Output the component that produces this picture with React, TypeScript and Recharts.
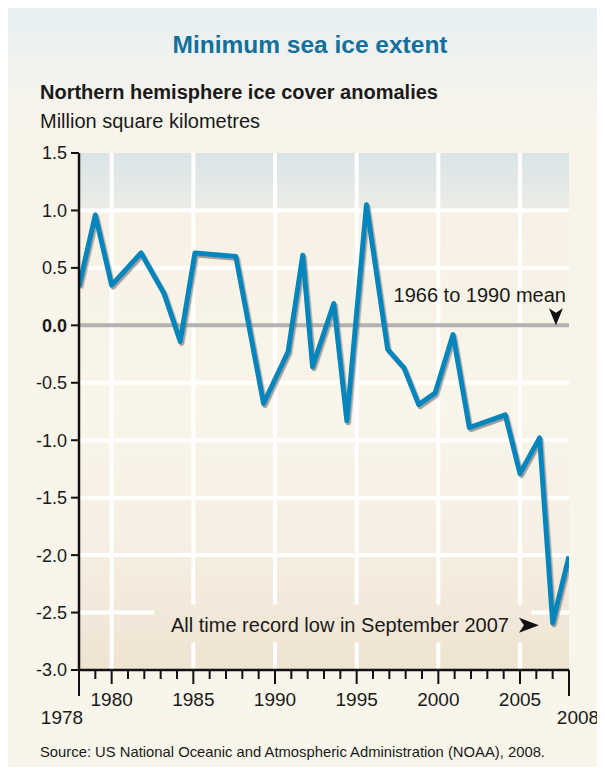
import {
  LineChart,
  Line,
  XAxis,
  YAxis,
  CartesianGrid,
  ReferenceLine,
  ReferenceDot,
} from "recharts";

// vertices as drawn in the original graphic (x positions are not exactly on whole years)
const years = [
  1978.0, 1979.0, 1980.0, 1981.8, 1983.2, 1984.2, 1985.1, 1987.6, 1989.3,
  1990.8, 1991.7, 1992.3, 1993.6, 1994.4, 1995.6, 1996.9, 1997.9, 1998.8,
  1999.8, 2000.9, 2001.9, 2004.1, 2005.0, 2006.2, 2007.0, 2008.0,
];
const anomalies = [
  0.34, 0.96, 0.35, 0.63, 0.28, -0.14, 0.63, 0.6, -0.68, -0.23, 0.61, -0.36,
  0.19, -0.83, 1.05, -0.21, -0.37, -0.69, -0.59, -0.08, -0.89, -0.78, -1.29,
  -0.98, -2.59, -2.01,
];

const yTicks = [-3, -2.5, -2, -1.5, -1, -0.5, 0, 0.5, 1, 1.5];
const yearTicks = [
  1978, 1979, 1980, 1981, 1982, 1983, 1984, 1985, 1986, 1987, 1988, 1989,
  1990, 1991, 1992, 1993, 1994, 1995, 1996, 1997, 1998, 1999, 2000, 2001,
  2002, 2003, 2004, 2005, 2006, 2007, 2008,
];
const gridYears = [1980, 1985, 1990, 1995, 2000, 2005];
const gridValues = [1, 0.5, -0.5, -1, -1.5, -2, -2.5];

const meanLabel = "1966 to 1990 mean";
const recordLabel = "All time record low in September 2007";

// area kept clear of grid lines behind the record-low note
const noteBox = { x1: 1982.6, x2: 2005.7, y1: -2.76, y2: -2.43 };

const data = years.map((year, i) => ({ year, value: anomalies[i] }));

const FONT = "'Liberation Sans', Arial, Helvetica, sans-serif";
const INK = "#1a1a1a";

function YTick(props: any) {
  const { x, y, payload } = props;
  return (
    <text
      x={x}
      y={y}
      dy="0.36em"
      textAnchor="end"
      fontSize={18}
      fontFamily={FONT}
      fontWeight={payload.value === 0 ? 700 : 400}
      fill={INK}
    >
      {payload.value.toFixed(1)}
    </text>
  );
}

function XTick(props: any) {
  const { x, y, payload } = props;
  const v = payload.value;
  const isEnd = v === 1978 || v === 2008;
  const isMajor = v % 5 === 0;
  const len = isEnd ? 26 : isMajor ? 14 : 9;
  return (
    <g>
      <line x1={x} x2={x} y1={y} y2={y + len} stroke="#111" strokeWidth={2} />
      {isMajor && (
        <text x={x} y={y + 35.5} textAnchor="middle" fontSize={19} fontFamily={FONT} fill={INK}>
          {v}
        </text>
      )}
      {isEnd && (
        <text
          x={v === 1978 ? x - 17 : x + 9}
          y={y + 54}
          textAnchor="middle"
          fontSize={19}
          fontFamily={FONT}
          fill={INK}
        >
          {v}
        </text>
      )}
    </g>
  );
}

function MeanNote(props: any) {
  const { cx, cy } = props;
  return (
    <g>
      <text x={cx + 10} y={cy - 23} textAnchor="end" fontSize={20} fontFamily={FONT} fill={INK}>
        {meanLabel}
      </text>
      <polygon
        points={`${cx - 7},${cy - 17} ${cx},${cy - 12.5} ${cx + 7},${cy - 17} ${cx},${cy}`}
        fill="#111"
      />
    </g>
  );
}

function RecordNote(props: any) {
  const { cx, cy } = props;
  return (
    <g>
      <text x={cx - 30} y={cy + 6.6} textAnchor="end" fontSize={20} fontFamily={FONT} fill={INK}>
        {recordLabel}
      </text>
      <polygon
        points={`${cx - 20},${cy - 7.5} ${cx - 15},${cy} ${cx - 20},${cy + 7.5} ${cx},${cy}`}
        fill="#111"
      />
    </g>
  );
}

const text = (style: any) => ({
  position: "absolute" as const,
  lineHeight: 1,
  whiteSpace: "nowrap" as const,
  fontFamily: FONT,
  color: INK,
  ...style,
});

export default function App() {
  return (
    <div
      style={{
        position: "relative",
        width: 597,
        height: 759,
        background: "linear-gradient(to bottom, #e6eff3 0px, #f2f3ee 60px, #f8f4ea 130px, #f8f5ea 100%)",
      }}
    >
      <div style={text({ left: 0, width: 604, top: 24.6, textAlign: "center", fontSize: 24.5, fontWeight: 700, color: "#13709d" })}>
        Minimum sea ice extent
      </div>
      <div style={text({ left: 32, top: 74, fontSize: 20, fontWeight: 700 })}>
        Northern hemisphere ice cover anomalies
      </div>
      <div style={text({ left: 32, top: 103.4, fontSize: 20 })}>Million square kilometres</div>
      <div style={text({ left: 32, top: 736.5, fontSize: 14.8 })}>
        Source: US National Oceanic and Atmospheric Administration (NOAA), 2008.
      </div>

      <div style={{ position: "absolute", left: 0, top: 0 }}>
        <LineChart
          width={597}
          height={759}
          data={data}
          margin={{ top: 145, right: 36, bottom: 47, left: 11 }}
        >
          <defs>
            <linearGradient id="plotBg" x1="0" y1="0" x2="0" y2="1">
              <stop offset="0" stopColor="#dae4e7" />
              <stop offset="0.105" stopColor="#ebece6" />
              <stop offset="0.115" stopColor="#f7f1e5" />
              <stop offset="0.5" stopColor="#f9f5ea" />
              <stop offset="0.75" stopColor="#f6efe3" />
              <stop offset="1" stopColor="#efe3d2" />
            </linearGradient>
            <filter id="lineShadow" x="-5%" y="-5%" width="110%" height="110%">
              <feDropShadow dx="1.5" dy="2" stdDeviation="0.6" floodColor="#6f6f6f" floodOpacity="0.65" />
            </filter>
          </defs>
          <CartesianGrid horizontal={false} vertical={false} fill="url(#plotBg)" />

          {gridValues.map((v) =>
            v === -2.5 ? (
              [
                <ReferenceLine
                  key={`h${v}a`}
                  segment={[{ x: 1978, y: v }, { x: noteBox.x1, y: v }]}
                  stroke="#fff"
                  strokeWidth={4}
                />,
                <ReferenceLine
                  key={`h${v}b`}
                  segment={[{ x: noteBox.x2, y: v }, { x: 2008, y: v }]}
                  stroke="#fff"
                  strokeWidth={4}
                />,
              ]
            ) : (
              <ReferenceLine key={`h${v}`} y={v} stroke="#fff" strokeWidth={4} />
            )
          )}
          {gridYears.map((yr) =>
            yr > noteBox.x1 && yr < noteBox.x2 ? (
              [
                <ReferenceLine
                  key={`v${yr}a`}
                  segment={[{ x: yr, y: -3 }, { x: yr, y: noteBox.y1 }]}
                  stroke="#fff"
                  strokeWidth={4}
                />,
                <ReferenceLine
                  key={`v${yr}b`}
                  segment={[{ x: yr, y: noteBox.y2 }, { x: yr, y: 1.5 }]}
                  stroke="#fff"
                  strokeWidth={4}
                />,
              ]
            ) : (
              <ReferenceLine key={`v${yr}`} x={yr} stroke="#fff" strokeWidth={4} />
            )
          )}
          <ReferenceLine y={0} stroke="#b2b2b2" strokeWidth={4} />

          <XAxis
            dataKey="year"
            type="number"
            domain={[1978, 2008]}
            ticks={yearTicks}
            interval={0}
            allowDataOverflow
            height={50}
            tickLine={false}
            tickSize={0}
            tickMargin={0}
            axisLine={{ stroke: "#111", strokeWidth: 2.5 }}
            tick={<XTick />}
          />
          <YAxis
            type="number"
            domain={[-3, 1.5]}
            ticks={yTicks}
            interval={0}
            allowDataOverflow
            width={60}
            tickSize={8}
            tickMargin={4}
            tickLine={{ stroke: "#111", strokeWidth: 2 }}
            axisLine={{ stroke: "#111", strokeWidth: 2.5 }}
            tick={<YTick />}
          />

          <Line
            dataKey="value"
            type="linear"
            stroke="#0585bd"
            strokeWidth={5}
            strokeLinejoin="round"
            dot={false}
            activeDot={false}
            filter="url(#lineShadow)"
            isAnimationActive={false}
          />

          <ReferenceDot x={2007.2} y={0} r={0} shape={(p: any) => <MeanNote {...p} />} />
          <ReferenceDot x={2006.16} y={-2.61} r={0} shape={(p: any) => <RecordNote {...p} />} />
        </LineChart>
      </div>
    </div>
  );
}
